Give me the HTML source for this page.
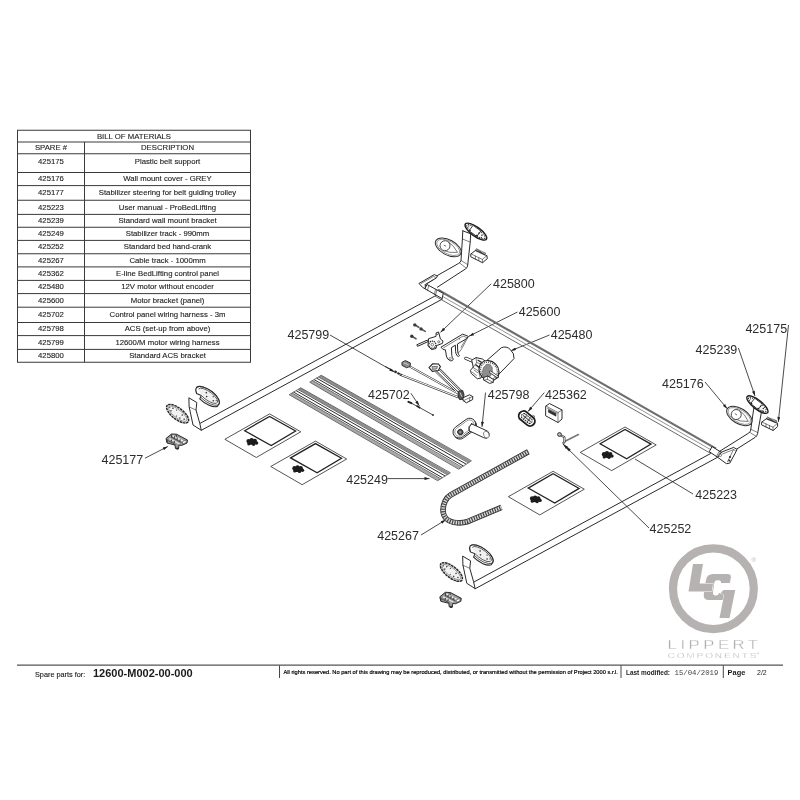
<!DOCTYPE html>
<html lang="en">
<head>
<meta charset="utf-8">
<title>Spare parts 12600-M002-00-000</title>
<style>
html,body{margin:0;padding:0;background:#fff;}
body{width:800px;height:800px;overflow:hidden;}
svg{display:block;will-change:transform;}
.ln{fill:none;stroke:#2a2a2a;stroke-width:1;stroke-linejoin:round;stroke-linecap:round;}
.lw{fill:#fff;stroke:#2a2a2a;stroke-width:1;stroke-linejoin:round;stroke-linecap:round;}
.th{fill:none;stroke:#2e2e2e;stroke-width:0.6;stroke-linejoin:round;stroke-linecap:round;}
.gr{fill:none;stroke:#8a8a8a;stroke-width:0.8;stroke-linejoin:round;stroke-linecap:round;}
.ld{fill:none;stroke:#2a2a2a;stroke-width:0.85;}
.co{font-family:"Liberation Sans",sans-serif;font-size:12.5px;fill:#2c2c2c;}
</style>
</head>
<body>
<svg width="800" height="800" viewBox="0 0 800 800">
<defs>
<marker id="ah" viewBox="0 0 10 6" refX="10" refY="3" markerWidth="7" markerHeight="3" markerUnits="userSpaceOnUse" orient="auto"><path d="M0,0 L10,3 L0,6 Z" fill="#222"/></marker>
</defs>
<rect width="800" height="800" fill="#fff"/>
<g id="bom" font-family="'Liberation Sans', sans-serif" font-size="7.75" fill="#1e1e1e" stroke="#1e1e1e" stroke-width="0.12" text-anchor="middle">
<g stroke="#3a3a3a" stroke-width="1" fill="none"><rect x="17.5" y="130.25" width="233.0" height="232.0"/>
<line x1="17.5" y1="142" x2="250.5" y2="142"/>
<line x1="17.5" y1="153.75" x2="250.5" y2="153.75"/>
<line x1="17.5" y1="172.5" x2="250.5" y2="172.5"/>
<line x1="17.5" y1="185.6" x2="250.5" y2="185.6"/>
<line x1="17.5" y1="200.25" x2="250.5" y2="200.25"/>
<line x1="17.5" y1="214.4" x2="250.5" y2="214.4"/>
<line x1="17.5" y1="227.25" x2="250.5" y2="227.25"/>
<line x1="17.5" y1="240.4" x2="250.5" y2="240.4"/>
<line x1="17.5" y1="253.75" x2="250.5" y2="253.75"/>
<line x1="17.5" y1="266.9" x2="250.5" y2="266.9"/>
<line x1="17.5" y1="280.4" x2="250.5" y2="280.4"/>
<line x1="17.5" y1="293.6" x2="250.5" y2="293.6"/>
<line x1="17.5" y1="307.2" x2="250.5" y2="307.2"/>
<line x1="17.5" y1="322.5" x2="250.5" y2="322.5"/>
<line x1="17.5" y1="335.6" x2="250.5" y2="335.6"/>
<line x1="17.5" y1="349.4" x2="250.5" y2="349.4"/>
<line x1="84.5" y1="142" x2="84.5" y2="362.25"/></g>
<text x="134.0" y="138.5">BILL OF MATERIALS</text>
<text x="51.0" y="150.25">SPARE #</text><text x="167.5" y="150.25">DESCRIPTION</text>
<text x="51.0" y="163.7">425175</text><text x="167.5" y="163.7">Plastic belt support</text>
<text x="51.0" y="181.42">425176</text><text x="167.5" y="181.42">Wall mount cover - GREY</text>
<text x="51.0" y="195.3">425177</text><text x="167.5" y="195.3">Stabilizer steering for belt guiding trolley</text>
<text x="51.0" y="209.7">425223</text><text x="167.5" y="209.7">User manual - ProBedLifting</text>
<text x="51.0" y="223.2">425239</text><text x="167.5" y="223.2">Standard wall mount bracket</text>
<text x="51.0" y="236.2">425249</text><text x="167.5" y="236.2">Stabilizer track - 990mm</text>
<text x="51.0" y="249.45">425252</text><text x="167.5" y="249.45">Standard bed hand-crank</text>
<text x="51.0" y="262.7">425267</text><text x="167.5" y="262.7">Cable track - 1000mm</text>
<text x="51.0" y="276.02">425362</text><text x="167.5" y="276.02">E-line BedLifting control panel</text>
<text x="51.0" y="289.37">425480</text><text x="167.5" y="289.37">12V motor without encoder</text>
<text x="51.0" y="302.77">425600</text><text x="167.5" y="302.77">Motor bracket (panel)</text>
<text x="51.0" y="317.22">425702</text><text x="167.5" y="317.22">Control panel wiring harness - 3m</text>
<text x="51.0" y="331.42">425798</text><text x="167.5" y="331.42">ACS (set-up from above)</text>
<text x="51.0" y="344.87">425799</text><text x="167.5" y="344.87">12600/M motor wiring harness</text>
<text x="51.0" y="358.2">425800</text><text x="167.5" y="358.2">Standard ACS bracket</text>
</g>
<g id="footer" font-family="'Liberation Sans', sans-serif" fill="#1a1a1a">
<line x1="17" y1="665.2" x2="783" y2="665.2" stroke="#555" stroke-width="1.3"/>
<line x1="279.5" y1="665.5" x2="279.5" y2="678" stroke="#333" stroke-width="0.9"/>
<line x1="621" y1="665.5" x2="621" y2="678" stroke="#333" stroke-width="0.9"/>
<line x1="723.3" y1="665.5" x2="723.3" y2="678" stroke="#333" stroke-width="0.9"/>
<text x="35" y="676.6" font-size="7.3" stroke="#1a1a1a" stroke-width="0.12">Spare parts for:</text>
<text x="93" y="677.3" font-size="11" font-weight="700">12600-M002-00-000</text>
<text x="283.5" y="674.3" font-size="5.71" fill="#000" stroke="#000" stroke-width="0.18">All rights reserved. No part of this drawing may be reproduced, distributed, or transmitted without the permission of Project 2000 s.r.l.</text>
<text x="626" y="674.6" font-size="6.44" font-weight="700">Last modified:</text>
<text x="674.5" y="675" font-size="7.3" font-family="'Liberation Mono', monospace" fill="#444">15/04/2019</text>
<text x="727.6" y="675" font-size="7.4" font-weight="700">Page</text>
<text x="757" y="675" font-size="7" >2/2</text>
</g>
<g id="logo">
<circle cx="713.4" cy="588.7" r="40.4" fill="none" stroke="#b5b2b1" stroke-width="8.2"/>
<g fill="#b5b2b1" stroke="#fff" stroke-width="1" paint-order="stroke">
<path d="M713,574 L727.5,574 Q731.6,574 730.8,578 L729.8,583 L721,583 Q721.3,580.3 718.5,580.3 L717,580.3 Q714.6,580.3 714.2,583 L713,592.5 Q712.8,595.5 715.5,595.5 L716,595.5 Q718.5,595.5 719,593 L729.5,593 L728.3,598 Q727.8,600 725,600 L709,600 Q703,600 703.8,594 L706,580 Q707,574 713,574 Z"/>
<path d="M693,564 L703,564 L699.6,583.5 L713,583.5 L711.8,591.5 L688.5,591.5 Z"/>
<path d="M723.5,590 L735.2,590 L729.6,618 L719.5,618 L723.6,597.5 Q724.6,593.2 720.5,593.2 Z"/>
</g>
<g font-family="'Liberation Sans', sans-serif" fill="#a9a7a6">
<text transform="translate(667.6,649.4) scale(1.4,1)" font-size="11.9" textLength="64.6" lengthAdjust="spacing" stroke="#fff" stroke-width="0.3">LIPPERT</text>
<text transform="translate(667.6,657.7) scale(1.4,1)" font-size="7.2" textLength="63.4" lengthAdjust="spacing" stroke="#fff" stroke-width="0.25">COMPONENTS</text>
<text x="751.5" y="561.5" font-size="6" fill="#b5b2b1">®</text>
<text x="757" y="654.6" font-size="3">®</text>
</g>
</g>
<g id="labels" class="co">
<text x="493" y="288">425800</text>
<text x="518.7" y="316.2">425600</text>
<text x="550.7" y="339.4">425480</text>
<text x="487.7" y="399">425798</text>
<text x="545.1" y="398.8">425362</text>
<text x="287.5" y="339.4">425799</text>
<text x="368" y="399">425702</text>
<text x="346.2" y="483.7">425249</text>
<text x="377.2" y="540.4">425267</text>
<text x="101.5" y="464.2">425177</text>
<text x="745.4" y="332.5">425175</text>
<text x="695.6" y="354.4">425239</text>
<text x="662" y="387.6">425176</text>
<text x="695.3" y="498.6">425223</text>
<text x="649.6" y="532.8">425252</text>
</g>
<g id="leaders" class="ld" marker-end="url(#ah)">
<line x1="491.2" y1="283.8" x2="440.5" y2="332.3"/>
<line x1="517.5" y1="312" x2="469" y2="336.2"/>
<line x1="549.5" y1="335" x2="511" y2="350.7"/>
<line x1="485.5" y1="392.6" x2="482" y2="426.8"/>
<line x1="544.3" y1="392.6" x2="528" y2="411.5"/>
<line x1="330" y1="335" x2="394.4" y2="371.9"/>
<line x1="410.9" y1="393.3" x2="419.3" y2="405.7"/>
<line x1="387.5" y1="478.6" x2="429.5" y2="478.6"/>
<line x1="421" y1="535" x2="445.8" y2="519.8"/>
<line x1="145" y1="458.2" x2="167.8" y2="446.5"/>
<line x1="788.5" y1="325" x2="778.3" y2="422"/>
<line x1="738.4" y1="348" x2="755" y2="396"/>
<line x1="705" y1="382" x2="727.2" y2="408.7"/>
<line x1="649" y1="528" x2="563.4" y2="444.4"/>
</g>
<line class="ld" x1="693" y1="494" x2="635" y2="459"/>
<g id="frame">
<!-- left front beam -->
<path class="ln" d="M199.8,423.5 L435.7,295.6 M201.3,430.3 L442.5,299"/>
<!-- bottom right beam -->
<path class="ln" d="M473.6,582.2 L710.5,453.6 M475.1,588.8 L717,457.6"/>
<!-- tube -->
<path d="M438,289.8 L716,448.6" fill="none" stroke="#6e6e6e" stroke-width="2.2"/>
<path d="M436.5,293 L713,451" fill="none" stroke="#7a7a7a" stroke-width="0.8"/>
<path d="M435,296 L711,453.6" fill="none" stroke="#5a5a5a" stroke-width="0.9"/>
</g>
<g id="topleft">
<!-- arm -->
<path d="M462.8,230.8 L470.7,233.8 L470.2,242.1 L467.6,266 Q467,268 465.4,269 L437,287.4 L431,282 L436.9,275.8 L458.6,263.4 Q460.6,262.3 461,260.6 L462.4,239 Z" fill="#fff" stroke="none"/>
<path class="ln" d="M462.8,230.8 L470.7,233.8 L470.2,242.1 L467.6,266 Q467,268 465.4,269 L437.4,287.2 M462.8,230.8 L462.4,239 L461,260.6 Q460.6,262.3 458.6,263.4 L436.9,275.8"/>
<path class="th" d="M462.4,239 L470.2,242.1 M461,260.4 L467.6,264.6 M459.4,262.8 L466.2,268.2"/>
<!-- plate -->
<g transform="translate(475.9,231.6) rotate(36)">
<ellipse rx="13" ry="4.6" fill="#f6f6f6" stroke="#1e1e1e" stroke-width="1.4"/>
<ellipse rx="11.1" ry="3.0999999999999996" fill="none" stroke="#2a2a2a" stroke-width="1" stroke-dasharray="1.2 1.3"/>
<rect x="-6" y="-3.4" width="9.6" height="6.8" fill="#fff" stroke="#222" stroke-width="0.8"/>
<g fill="#222"><circle cx="-5.4" cy="2.6" r="0.8"/><circle cx="3" cy="2.6" r="0.8"/><circle cx="3.4" cy="-0.6" r="0.7"/><circle cx="7" cy="-0.6" r="0.7"/><circle cx="8" cy="1.6" r="0.6"/></g>
<path d="M-9.6,-1.6 Q-8.4,-0.2 -9,2" fill="none" stroke="#333" stroke-width="0.6"/>
</g>
<!-- cover -->
<g transform="translate(448.2,247.4) rotate(28)">
<ellipse rx="14" ry="7.6" fill="#fff" stroke="#2e2e2e" stroke-width="1"/>
<ellipse rx="12.6" ry="6.3" fill="none" stroke="#777" stroke-width="0.7"/>
<path d="M-3,-5 Q4,-4.6 10.5,0 Q4,4.6 -3,5" fill="none" stroke="#555" stroke-width="0.7"/>
<circle cx="-3.6" cy="0" r="5" fill="#fff" stroke="#333" stroke-width="0.8"/>
<line x1="-5" y1="0" x2="-2.4" y2="0" stroke="#444" stroke-width="0.7"/>
</g>
<!-- belt support -->
<path class="lw" d="M471.1,253.9 L475.5,250.4 L486.9,255.7 L487.3,258.7 L482.5,262.7 L471.1,257 Z"/>
<path class="th" d="M471.1,253.9 L482.4,259.4 L486.9,255.7 M482.4,259.4 L482.5,262.7 M475.4,256.2 L475.4,258.9 M478.8,257.8 L478.8,260.5"/>
<path d="M475.6,249.6 L485.6,254.3" fill="none" stroke="#333" stroke-width="3" stroke-dasharray="0.75 0.5"/>
<!-- corner block & sleeve -->
<path class="lw" d="M419.3,283.3 L434.3,274.6 L437.3,276.1 L436.5,277.8 L425.3,284.6 L425.3,288.9 L423,287.6 Z"/>
<path class="th" d="M421,283.6 L433.6,276.4 L435.6,277.4 M424.8,284.8 L433.8,279.5"/>
<path class="lw" d="M427.3,284.7 L443.3,293.4 L442.1,298.6 L425.3,288.9 Z"/>
<path class="th" d="M428.8,285.6 L427.5,290.2 M435.6,289.3 L434.4,294.2 M436.9,290 L435.6,294.9"/>
</g>
<g id="rightasm">
<!-- arm -->
<path class="lw" d="M754.2,408 L761.6,411 L757.6,433.6 Q757,436 755.1,437.4 L724.2,457 L718.5,452 L748.8,433 Q750.3,432 750.6,430.5 Z"/>
<path class="th" d="M750.8,429.3 L757.8,432.6 M749.6,432.3 L756.4,436.4"/>
<!-- plate -->
<g transform="translate(757.4,404.6) rotate(38)">
<ellipse rx="13" ry="4.5" fill="#f6f6f6" stroke="#1e1e1e" stroke-width="1.4"/>
<ellipse rx="11.1" ry="3.0" fill="none" stroke="#2a2a2a" stroke-width="1" stroke-dasharray="1.2 1.3"/>
<rect x="-6" y="-3.4" width="9.6" height="6.8" fill="#fff" stroke="#222" stroke-width="0.8"/>
<g fill="#222"><circle cx="-5.4" cy="2.6" r="0.8"/><circle cx="3" cy="2.6" r="0.8"/><circle cx="3.4" cy="-0.6" r="0.7"/><circle cx="7" cy="-0.6" r="0.7"/><circle cx="8" cy="1.6" r="0.6"/></g>
<path d="M-9.6,-1.6 Q-8.4,-0.2 -9,2" fill="none" stroke="#333" stroke-width="0.6"/>
</g>
<!-- cover -->
<g transform="translate(739.3,416) rotate(31)">
<ellipse rx="14" ry="7.6" fill="#fff" stroke="#2e2e2e" stroke-width="1"/>
<ellipse rx="12.6" ry="6.3" fill="none" stroke="#777" stroke-width="0.7"/>
<path d="M-3,-5 Q4,-4.6 10.5,0 Q4,4.6 -3,5" fill="none" stroke="#555" stroke-width="0.7"/>
<circle cx="-3.4" cy="0.3" r="5" fill="#fff" stroke="#333" stroke-width="0.8"/>
<line x1="-5" y1="0.3" x2="-2.4" y2="0.3" stroke="#444" stroke-width="0.7"/>
</g>
<!-- belt support -->
<path class="lw" d="M761.9,422 L766.4,418.7 L777.6,423.2 L777.6,426.6 L773.1,430.5 L761.9,425 Z"/>
<path class="th" d="M761.9,422 L773,427.2 L777.6,423.2 M773,427.2 L773.1,430.5 M766,424 L766,426.8 M769.5,425.6 L769.5,428.4"/>
<path d="M766.6,417.8 L776.6,422" fill="none" stroke="#333" stroke-width="3" stroke-dasharray="0.75 0.5"/>
<!-- sleeve + gusset -->
<path class="lw" d="M720.8,452.4 L733.7,447.4 L737.1,449.6 L729.8,463.1 L726.4,463.7 L718,457.5 Z"/>
<path class="th" d="M722.5,454 L733.5,449.6 L735.5,450.8 M733.5,449.6 L727.5,461.8"/>
<circle cx="730" cy="457" r="1" fill="#222"/><circle cx="729.3" cy="460.5" r="1" fill="#222"/>
<path class="lw" d="M712.4,446.8 L721.4,452.4 L718,457.5 L709.6,451.9 Z"/>
<path class="th" d="M719.4,451.2 L716.4,456.3 M720.4,451.8 L717.3,457"/>
<circle cx="720.3" cy="455.3" r="1.2" fill="#fff" stroke="#222" stroke-width="0.6"/>
</g>
<g id="endasm-left">
<!-- L bar -->
<path class="lw" d="M189.2,398 L196.8,402.5 L196,410 L199.8,423.5 L201.3,430.3 L193,425 L189.2,407 Z"/>
<path class="th" d="M189.2,407 L196,410"/>
<!-- flat disc -->
<g transform="translate(177.6,413.7) rotate(38)">
<ellipse rx="13.3" ry="5.6" fill="#f2f2f2" stroke="#2a2a2a" stroke-width="1.5" stroke-dasharray="2.6 0.6"/>
<ellipse rx="11.4" ry="4" fill="none" stroke="#666" stroke-width="0.6"/>
<g fill="#3a3a3a"><circle cx="-7" cy="-1.4" r="0.75"/><circle cx="-7" cy="1.8" r="0.75"/><circle cx="-3" cy="-2.2" r="0.6"/><circle cx="4.5" cy="-1.8" r="0.75"/><circle cx="4.5" cy="2" r="0.75"/><circle cx="8.5" cy="0.3" r="0.75"/><circle cx="-10" cy="0" r="0.6"/><circle cx="0.5" cy="2.6" r="0.55"/></g>
</g>
<!-- cup disc -->
<g transform="translate(208,395.4) rotate(36)">
<path d="M-14,0.4 A14,6.4 0 1 1 14,1.6 L14,3.4 A14,6.4 0 0 1 -4.6,7.6 L-5.4,4 L-10.2,5.2 Q-13.8,3.2 -14,0.4 Z" fill="#fff" stroke="#2a2a2a" stroke-width="1.1"/>
<path d="M-14,0.4 A14,6.4 0 1 1 14,1.6 A14,6.4 0 0 1 -4.6,5.8" fill="none" stroke="#2a2a2a" stroke-width="0.7"/>
<path d="M-11.4,0.4 A11.6,4.4 0 1 1 11.4,1.6 A11.6,4.4 0 0 1 -5.2,4" fill="#f0f0f0" stroke="#444" stroke-width="0.8"/>
<g fill="#3a3a3a"><circle cx="-3" cy="-1.2" r="0.8"/><circle cx="-0.4" cy="1.7" r="0.8"/><circle cx="7.4" cy="1.2" r="0.8"/><circle cx="5" cy="-2" r="0.65"/><circle cx="9.6" cy="-0.6" r="0.55"/></g>
</g>
<!-- trolley -->
<path d="M166,438.5 L171.5,434 L176.5,434.2 L187.5,440 L187,443 L181.5,445.5 L179,445 L178.5,449 L175.5,448.6 L175,445 L167,443 Z" fill="#9a9a9a" stroke="#2a2a2a" stroke-width="1" stroke-linejoin="round"/>
<path d="M172.6,435.6 L183,441" fill="none" stroke="#f2f2f2" stroke-width="1.5"/>
<path d="M169.4,438.6 L179.6,444" fill="none" stroke="#e6e6e6" stroke-width="1.2"/>
<path d="M171,437 L181.6,442.6 M168,440.6 L175.6,444.6" fill="none" stroke="#333" stroke-width="0.7"/>
<path d="M174.6,436.2 L174.2,438.4 M177.4,437.6 L177,439.8 M180.2,439.2 L179.8,441.4 M171.6,439.6 L171.2,441.6 M174.4,441 L174,443" fill="none" stroke="#222" stroke-width="0.9"/>
<path d="M182.5,441.5 L186.2,440.2 L186.2,442.6 L182.5,444 Z" fill="#fff" stroke="#333" stroke-width="0.5"/>
<path d="M171.5,434.5 L171.8,437.5 M176.3,434.6 L176.3,437.4 M167,439 L167.4,442" fill="none" stroke="#222" stroke-width="0.8"/>
<circle cx="177.2" cy="448.6" r="1" fill="#222"/>
</g>
<g id="endasm-bottom" transform="translate(273.8,158.3)">
<!-- L bar -->
<path class="lw" d="M189.2,398 L196.8,402.5 L196,410 L199.8,423.5 L201.3,430.3 L193,425 L189.2,407 Z"/>
<path class="th" d="M189.2,407 L196,410"/>
<!-- flat disc -->
<g transform="translate(177.6,413.7) rotate(38)">
<ellipse rx="13.3" ry="5.6" fill="#f2f2f2" stroke="#2a2a2a" stroke-width="1.5" stroke-dasharray="2.6 0.6"/>
<ellipse rx="11.4" ry="4" fill="none" stroke="#666" stroke-width="0.6"/>
<g fill="#3a3a3a"><circle cx="-7" cy="-1.4" r="0.75"/><circle cx="-7" cy="1.8" r="0.75"/><circle cx="-3" cy="-2.2" r="0.6"/><circle cx="4.5" cy="-1.8" r="0.75"/><circle cx="4.5" cy="2" r="0.75"/><circle cx="8.5" cy="0.3" r="0.75"/><circle cx="-10" cy="0" r="0.6"/><circle cx="0.5" cy="2.6" r="0.55"/></g>
</g>
<!-- cup disc -->
<g transform="translate(208,395.4) rotate(36)">
<path d="M-14,0.4 A14,6.4 0 1 1 14,1.6 L14,3.4 A14,6.4 0 0 1 -4.6,7.6 L-5.4,4 L-10.2,5.2 Q-13.8,3.2 -14,0.4 Z" fill="#fff" stroke="#2a2a2a" stroke-width="1.1"/>
<path d="M-14,0.4 A14,6.4 0 1 1 14,1.6 A14,6.4 0 0 1 -4.6,5.8" fill="none" stroke="#2a2a2a" stroke-width="0.7"/>
<path d="M-11.4,0.4 A11.6,4.4 0 1 1 11.4,1.6 A11.6,4.4 0 0 1 -5.2,4" fill="#f0f0f0" stroke="#444" stroke-width="0.8"/>
<g fill="#3a3a3a"><circle cx="-3" cy="-1.2" r="0.8"/><circle cx="-0.4" cy="1.7" r="0.8"/><circle cx="7.4" cy="1.2" r="0.8"/><circle cx="5" cy="-2" r="0.65"/><circle cx="9.6" cy="-0.6" r="0.55"/></g>
</g>
<!-- trolley -->
<path d="M166,438.5 L171.5,434 L176.5,434.2 L187.5,440 L187,443 L181.5,445.5 L179,445 L178.5,449 L175.5,448.6 L175,445 L167,443 Z" fill="#9a9a9a" stroke="#2a2a2a" stroke-width="1" stroke-linejoin="round"/>
<path d="M172.6,435.6 L183,441" fill="none" stroke="#f2f2f2" stroke-width="1.5"/>
<path d="M169.4,438.6 L179.6,444" fill="none" stroke="#e6e6e6" stroke-width="1.2"/>
<path d="M171,437 L181.6,442.6 M168,440.6 L175.6,444.6" fill="none" stroke="#333" stroke-width="0.7"/>
<path d="M174.6,436.2 L174.2,438.4 M177.4,437.6 L177,439.8 M180.2,439.2 L179.8,441.4 M171.6,439.6 L171.2,441.6 M174.4,441 L174,443" fill="none" stroke="#222" stroke-width="0.9"/>
<path d="M182.5,441.5 L186.2,440.2 L186.2,442.6 L182.5,444 Z" fill="#fff" stroke="#333" stroke-width="0.5"/>
<path d="M171.5,434.5 L171.8,437.5 M176.3,434.6 L176.3,437.4 M167,439 L167.4,442" fill="none" stroke="#222" stroke-width="0.8"/>
<circle cx="177.2" cy="448.6" r="1" fill="#222"/>
</g>
<g id="rails">
<path d="M309.7,382.2 L321.3,375.3 L471.4,460.8 L458.6,469.2 Z" fill="#fff" stroke="none"/>
<path d="M311.1,381.4 L460.2,468.2" fill="none" stroke="#a8a8a8" stroke-width="2.4"/>
<path d="M319.9,376.1 L469.8,461.8" fill="none" stroke="#8e8e8e" stroke-width="2.4"/>
<path d="M309.7,382.2 L458.6,469.2" fill="none" stroke="#4a4a4a" stroke-width="0.8"/>
<path d="M312.5,380.5 L461.8,467.2" fill="none" stroke="#4a4a4a" stroke-width="0.8"/>
<path d="M318.5,377.0 L468.2,462.8" fill="none" stroke="#4a4a4a" stroke-width="0.8"/>
<path d="M321.3,375.3 L471.4,460.8" fill="none" stroke="#4a4a4a" stroke-width="0.8"/>
<path d="M314.1,379.6 L463.4,466.0" fill="none" stroke="#2c2c2c" stroke-width="1"/>
<path d="M316.6,378.1 L466.2,464.2" fill="none" stroke="#2c2c2c" stroke-width="1"/>
<path d="M309.7,382.2 L321.3,375.3" fill="none" stroke="#555" stroke-width="0.8"/>
<path d="M458.6,469.2 L471.4,460.8" fill="none" stroke="#555" stroke-width="0.8"/>
<path d="M289.2,394.7 L300.8,387.8 L450.4,472.8 L437.6,480.7 Z" fill="#fff" stroke="none"/>
<path d="M290.6,393.9 L439.2,479.8" fill="none" stroke="#a8a8a8" stroke-width="2.4"/>
<path d="M299.4,388.6 L448.8,473.8" fill="none" stroke="#8e8e8e" stroke-width="2.4"/>
<path d="M289.2,394.7 L437.6,480.7" fill="none" stroke="#4a4a4a" stroke-width="0.8"/>
<path d="M292.0,393.0 L440.8,478.8" fill="none" stroke="#4a4a4a" stroke-width="0.8"/>
<path d="M298.0,389.5 L447.2,474.7" fill="none" stroke="#4a4a4a" stroke-width="0.8"/>
<path d="M300.8,387.8 L450.4,472.8" fill="none" stroke="#4a4a4a" stroke-width="0.8"/>
<path d="M293.6,392.1 L442.4,477.7" fill="none" stroke="#2c2c2c" stroke-width="1"/>
<path d="M296.1,390.6 L445.2,476.0" fill="none" stroke="#2c2c2c" stroke-width="1"/>
<path d="M289.2,394.7 L300.8,387.8" fill="none" stroke="#555" stroke-width="0.8"/>
<path d="M437.6,480.7 L450.4,472.8" fill="none" stroke="#555" stroke-width="0.8"/>
</g>
<g id="manuals">
<path class="lw" style="stroke-width:0.8" d="M225.2,439.1 L269.6,413.9 L300.8,431.8 L256.6,457.3 Z"/>
<path d="M244.7,430.7 L269.6,416.4 L295.6,431.0 L271.2,445.6 Z" fill="#fff" stroke="#222" stroke-width="1.3" stroke-linejoin="miter"/>
<g transform="translate(252.0,442.0)" fill="#1c1c1c"><ellipse cx="0" cy="0.2" rx="4.2" ry="2.6"/><circle cx="-3.4" cy="-0.9" r="2.2"/><circle cx="-0.4" cy="-1.9" r="2.1"/><circle cx="2.8" cy="-1" r="2.2"/><circle cx="4.6" cy="1" r="1.7"/><circle cx="-3.2" cy="1.8" r="1.6"/><circle cx="1.6" cy="2.2" r="1.7"/></g>
<path class="lw" style="stroke-width:0.8" d="M271.1,466.3 L315.5,441.1 L346.7,459.0 L302.5,484.5 Z"/>
<path d="M290.6,457.9 L315.5,443.6 L341.5,458.2 L317.1,472.8 Z" fill="#fff" stroke="#222" stroke-width="1.3" stroke-linejoin="miter"/>
<g transform="translate(297.9,469.2)" fill="#1c1c1c"><ellipse cx="0" cy="0.2" rx="4.2" ry="2.6"/><circle cx="-3.4" cy="-0.9" r="2.2"/><circle cx="-0.4" cy="-1.9" r="2.1"/><circle cx="2.8" cy="-1" r="2.2"/><circle cx="4.6" cy="1" r="1.7"/><circle cx="-3.2" cy="1.8" r="1.6"/><circle cx="1.6" cy="2.2" r="1.7"/></g>
<path class="lw" style="stroke-width:0.8" d="M508.7,496.5 L553.1,471.3 L584.3,489.2 L540.1,514.7 Z"/>
<path d="M528.2,488.1 L553.1,473.8 L579.1,488.4 L554.7,503.0 Z" fill="#fff" stroke="#222" stroke-width="1.3" stroke-linejoin="miter"/>
<g transform="translate(535.5,499.4)" fill="#1c1c1c"><ellipse cx="0" cy="0.2" rx="4.2" ry="2.6"/><circle cx="-3.4" cy="-0.9" r="2.2"/><circle cx="-0.4" cy="-1.9" r="2.1"/><circle cx="2.8" cy="-1" r="2.2"/><circle cx="4.6" cy="1" r="1.7"/><circle cx="-3.2" cy="1.8" r="1.6"/><circle cx="1.6" cy="2.2" r="1.7"/></g>
<path class="lw" style="stroke-width:0.8" d="M580.6,452.2 L625.0,427.0 L656.2,444.9 L612.0,470.4 Z"/>
<path d="M600.1,443.8 L625.0,429.5 L651.0,444.1 L626.6,458.7 Z" fill="#fff" stroke="#222" stroke-width="1.3" stroke-linejoin="miter"/>
<g transform="translate(607.4,455.1)" fill="#1c1c1c"><ellipse cx="0" cy="0.2" rx="4.2" ry="2.6"/><circle cx="-3.4" cy="-0.9" r="2.2"/><circle cx="-0.4" cy="-1.9" r="2.1"/><circle cx="2.8" cy="-1" r="2.2"/><circle cx="4.6" cy="1" r="1.7"/><circle cx="-3.2" cy="1.8" r="1.6"/><circle cx="1.6" cy="2.2" r="1.7"/></g>
</g>
<g id="chain" fill="none" stroke-linecap="butt">
<path d="M528.3,451.7 L450.6,495 C446,497.6 443,504 443,510 C443,517 448,522.3 457,522.7 C460,523 464,522.7 467,521.8 L501.5,507.4" stroke="#333" stroke-width="5.6"/>
<path d="M528.3,451.7 L450.6,495 C446,497.6 443,504 443,510 C443,517 448,522.3 457,522.7 C460,523 464,522.7 467,521.8 L501.5,507.4" stroke="#dcdcdc" stroke-width="3.8"/>
<path d="M528.3,451.7 L450.6,495 C446,497.6 443,504 443,510 C443,517 448,522.3 457,522.7 C460,523 464,522.7 467,521.8 L501.5,507.4" stroke="#444" stroke-width="4.2" stroke-dasharray="1.2 1.3"/>
</g>
<g id="screws" stroke-linecap="round">
<path d="M415,325 L418.8,327.3 M421.2,329 L425.2,331.4 M412,336.4 L416,338.8" fill="none" stroke="#555" stroke-width="1.6"/>
<circle cx="414.8" cy="324.9" r="1.7" fill="#3a3a3a"/><circle cx="421" cy="328.9" r="1.7" fill="#3a3a3a"/><circle cx="411.8" cy="336.3" r="1.7" fill="#3a3a3a"/>
</g>
<g id="acsbracket">
<path class="lw" d="M417.2,344.6 L427.6,340 L428.3,341.5 L417.9,346.2 Z"/>
<path class="lw" d="M429,338.5 L436,336.4 L436.2,332.8 L438.6,332 L440.4,339 L443,341 L442.4,343.4 L436.6,345.6 L436,348.5 L431.5,349.6 L428.2,346 Z"/>
<circle cx="432.3" cy="344.7" r="3.6" fill="#fff" stroke="#222" stroke-width="1.3" stroke-dasharray="1.3 0.7"/>
<circle cx="432.3" cy="344.7" r="1.3" fill="#fff" stroke="#333" stroke-width="0.6"/>
<circle cx="437.4" cy="333.6" r="1" fill="#fff" stroke="#222" stroke-width="0.7"/>
<circle cx="438.8" cy="341.8" r="1.1" fill="#fff" stroke="#333" stroke-width="0.6"/>
</g>
<g id="motorbracket">
<path class="lw" d="M441.3,347 L462.7,334.1 L468.4,336.4 L466.8,338.6 L457.4,344 L457.8,352 Q458.2,354.8 459.6,355.6 Q458.4,357.2 457.2,355.8 Q455.6,353.6 455.6,351.6 L455.4,345.2 L451.4,347.6 L451.8,355.6 Q452.2,358.6 453.4,359 Q452.6,361.4 450.4,360.8 Q446.8,359.4 446.4,356 L445.4,349.8 L443.5,349.6 Z"/>
<path class="th" d="M443.4,347.9 L463,336 L466.6,337.6 M468.4,336.4 L461,350 Q459.4,352.4 458.2,352.6 M466,338.8 L461,347.4"/>
<circle cx="459.4" cy="338.8" r="0.6" fill="#333"/><circle cx="450" cy="358.6" r="1.1" fill="#fff" stroke="#333" stroke-width="0.5"/>
</g>
<g id="motor">
<!-- output shaft -->
<path d="M465.8,358.3 L473.4,361.4" fill="none" stroke="#2a2a2a" stroke-width="3.2" stroke-linecap="round"/>
<path d="M465.8,358.3 L473.4,361.4" fill="none" stroke="#fff" stroke-width="1.7" stroke-linecap="round"/>
<!-- gearbox -->
<path class="lw" d="M472,360 L476,357.6 L482.4,359 L486,361.6 L481,378 L477.4,378.8 L471.4,373.6 L470.4,370.4 L473,367.4 Z"/>
<path class="th" d="M473,367.4 L478.6,371 L480,377 M476,357.6 L476.6,362.6 L473,367.4 M476.6,362.6 L483.4,364.6 M474,370 L477.6,372.6 M472,372 L476.4,375.4"/>
<path d="M477.6,360 L481.6,362.4 M475.4,364.6 L479.6,367.6" fill="none" stroke="#333" stroke-width="1.3"/>
<!-- body -->
<path class="lw" d="M486.9,360.4 L501.4,347.7 Q506.4,345.6 510.4,349.6 Q514.6,353.6 514,358.6 L499.6,373.5 Z"/>
<!-- gear face -->
<g transform="translate(489,370.6) rotate(46)">
<ellipse rx="10.7" ry="9.3" fill="#fff" stroke="#222" stroke-width="1.1"/>
<ellipse rx="9" ry="7.7" fill="none" stroke="#3a3a3a" stroke-width="1.3" stroke-dasharray="0.9 1.1"/>
</g>
<ellipse cx="487.4" cy="371.2" rx="4.8" ry="7.2" transform="rotate(14 487.4 371.2)" fill="#8e8e8e" stroke="#4a4a4a" stroke-width="0.9" stroke-dasharray="0.8 0.6"/>
<path d="M490.4,372 L497.6,376.8" fill="none" stroke="#2a2a2a" stroke-width="2.6" stroke-linecap="round"/>
<path d="M490.4,372 L497.2,376.5" fill="none" stroke="#fff" stroke-width="1.2" stroke-linecap="round"/>
<path class="lw" d="M484,377.4 L487.6,376 L493.4,379.4 L493.2,382.4 L489.6,383.4 L484,380.2 Z"/>
<path class="th" d="M487.6,376 L487.4,379.4 L493.2,382.4 M487.4,379.4 L484,380.2"/>
</g>
<g id="harness">
<g fill="none" stroke="#3a3a3a" stroke-width="2.1">
<path d="M410,366.6 L459.4,394.2 M399.8,374.4 L458.8,397.4 M439.8,369.6 L462.4,392.2 M436,371.6 L460,394.8"/>
</g>
<g fill="none" stroke="#fff" stroke-width="1">
<path d="M410,366.6 L459.4,394.2 M399.8,374.4 L458.8,397.4 M439.8,369.6 L462.4,392.2 M436,371.6 L460,394.8"/>
</g>
<path d="M401.9,362.4 L405.4,360.6 L410.4,363 L410.2,366.4 L406.6,367.8 L402,365.4 Z" fill="#8a8a8a" stroke="#222" stroke-width="0.9"/>
<path d="M403.6,362.6 L408.6,365" stroke="#ddd" stroke-width="0.7" fill="none"/>
<path d="M429,367.6 L432.6,363.8 L438.4,364 L440.4,366.6 L438.4,370.6 L432.4,371.4 Z" fill="#fff" stroke="#222" stroke-width="1.1"/>
<path d="M432,366.6 L437.6,366.4 L436.6,369 L432.4,369.4 Z" fill="#bbb" stroke="#333" stroke-width="0.6"/>
<path d="M385,366.3 L393.4,370.8" class="ld"/>
<path d="M394.4,371.3 L401.6,375.1" fill="none" stroke="#2a2a2a" stroke-width="2.2" stroke-dasharray="2.6 0.8"/>
<!-- junction -->
<path d="M458.4,391.4 L462.6,390.4 L464,394.6 L463.4,399.2 L459.6,399.6 L458,396 Z" fill="#555" stroke="#222" stroke-width="0.9"/>
<path d="M460,392.6 L462,396.8" stroke="#eee" stroke-width="0.8" fill="none"/>
<path class="lw" d="M463.2,397.6 L469.6,394.8 L472.8,396.6 L472.6,399.6 L466.4,402.8 L463.4,400.8 Z"/>
<path class="th" d="M463.4,400.8 L469.8,397.6 L472.8,396.6 M469.8,397.6 L469.6,400.8"/>
</g>
<g id="cable702">
<path d="M408.4,401.8 L411.4,403.2" stroke="#222" stroke-width="2" fill="none" stroke-linecap="round"/>
<path d="M411.4,403.2 L417.4,406.4 M419.6,407.6 L432.6,414.8" stroke="#333" stroke-width="0.9" fill="none"/>
<path d="M416.6,405.8 L420.2,408" stroke="#222" stroke-width="1.8" fill="none"/>
<circle cx="433" cy="415" r="0.9" fill="#222"/>
</g>
<g id="acs">
<g transform="translate(464.7,428.6) rotate(-36)">
<rect x="-12.6" y="-5.6" width="25.2" height="12.4" rx="6" ry="6" fill="#fff" stroke="#2a2a2a" stroke-width="0.9"/>
<rect x="-12.6" y="-6.6" width="25.2" height="12" rx="6" ry="6" fill="#fff" stroke="#2a2a2a" stroke-width="0.9"/>
<rect x="-10.8" y="-5" width="21.6" height="8.8" rx="4.4" ry="4.4" fill="none" stroke="#777" stroke-width="0.7"/>
<circle cx="-5.6" cy="0.2" r="2.7" fill="#5a5a5a" stroke="#222" stroke-width="0.9"/>
<circle cx="-5.6" cy="0.2" r="1.1" fill="#999"/>
</g>
<path class="lw" d="M471.5,423.8 L487.7,431.2 Q490.4,433.6 488.6,437 Q486.4,439.4 483.7,437.7 L468.9,430.7 Q467.6,426.4 471.5,423.8 Z"/>
<ellipse cx="486.3" cy="434.6" rx="2.6" ry="3.5" transform="rotate(-25 486.3 434.6)" fill="#fff" stroke="#666" stroke-width="0.7"/>
<path class="th" d="M471.4,424 Q468.4,426.6 469.4,430.6"/>
</g>
<g id="panelbracket">
<g transform="translate(526.8,418.5) rotate(39)">
<rect x="-9" y="-4.8" width="18" height="9.6" rx="4.8" ry="4.8" fill="#fff" stroke="#1e1e1e" stroke-width="1.9"/>
<rect x="-6.2" y="-2.6" width="12.4" height="5.2" rx="2.4" ry="2.4" fill="#e6e6e6" stroke="#222" stroke-width="1" stroke-dasharray="1.6 0.9"/>
<path d="M-5,0 L5,0 M-2,-2.4 L-2,2.4 M2.4,-2.4 L2.4,2.4" stroke="#222" stroke-width="0.8"/>
</g>
<path d="M532.4,415.2 L534.6,416 L534.2,417.8" fill="none" stroke="#333" stroke-width="0.6"/>
</g>
<g id="panel">
<path class="lw" d="M546,406 L549.5,403.5 L562,410 L562,419 L558,422.5 L546,416 Z"/>
<path class="th" d="M546,406 L558,412.5 L562,410 M558,412.5 L558,422.5"/>
<path d="M548.4,409.6 L556,413.6 L556,416.2 L548.4,412.2 Z" fill="#333" stroke="#222" stroke-width="0.5"/>
<path class="th" d="M547.4,408.2 L557,413.2"/>
</g>
<g id="crank">
<path d="M563,444 L570.4,449.6 L569,451.2 Z" fill="#222" stroke="#222" stroke-width="0.5" stroke-linejoin="round"/>
<path d="M564.6,441.6 L578.4,434.6" stroke="#777" stroke-width="1.7" fill="none" stroke-linecap="round"/>
<path d="M561,435.4 L564.4,437.2 L564.4,442 L562.8,443.8" fill="none" stroke="#2a2a2a" stroke-width="2.1" stroke-linejoin="round"/>
<path d="M561,435.4 L564.4,437.2 L564.4,442 L562.8,443.8" fill="none" stroke="#fff" stroke-width="0.8" stroke-linejoin="round"/>
<circle cx="559.5" cy="434.5" r="1.9" fill="#bbb" stroke="#333" stroke-width="1"/>
</g>
</svg>
</body>
</html>
